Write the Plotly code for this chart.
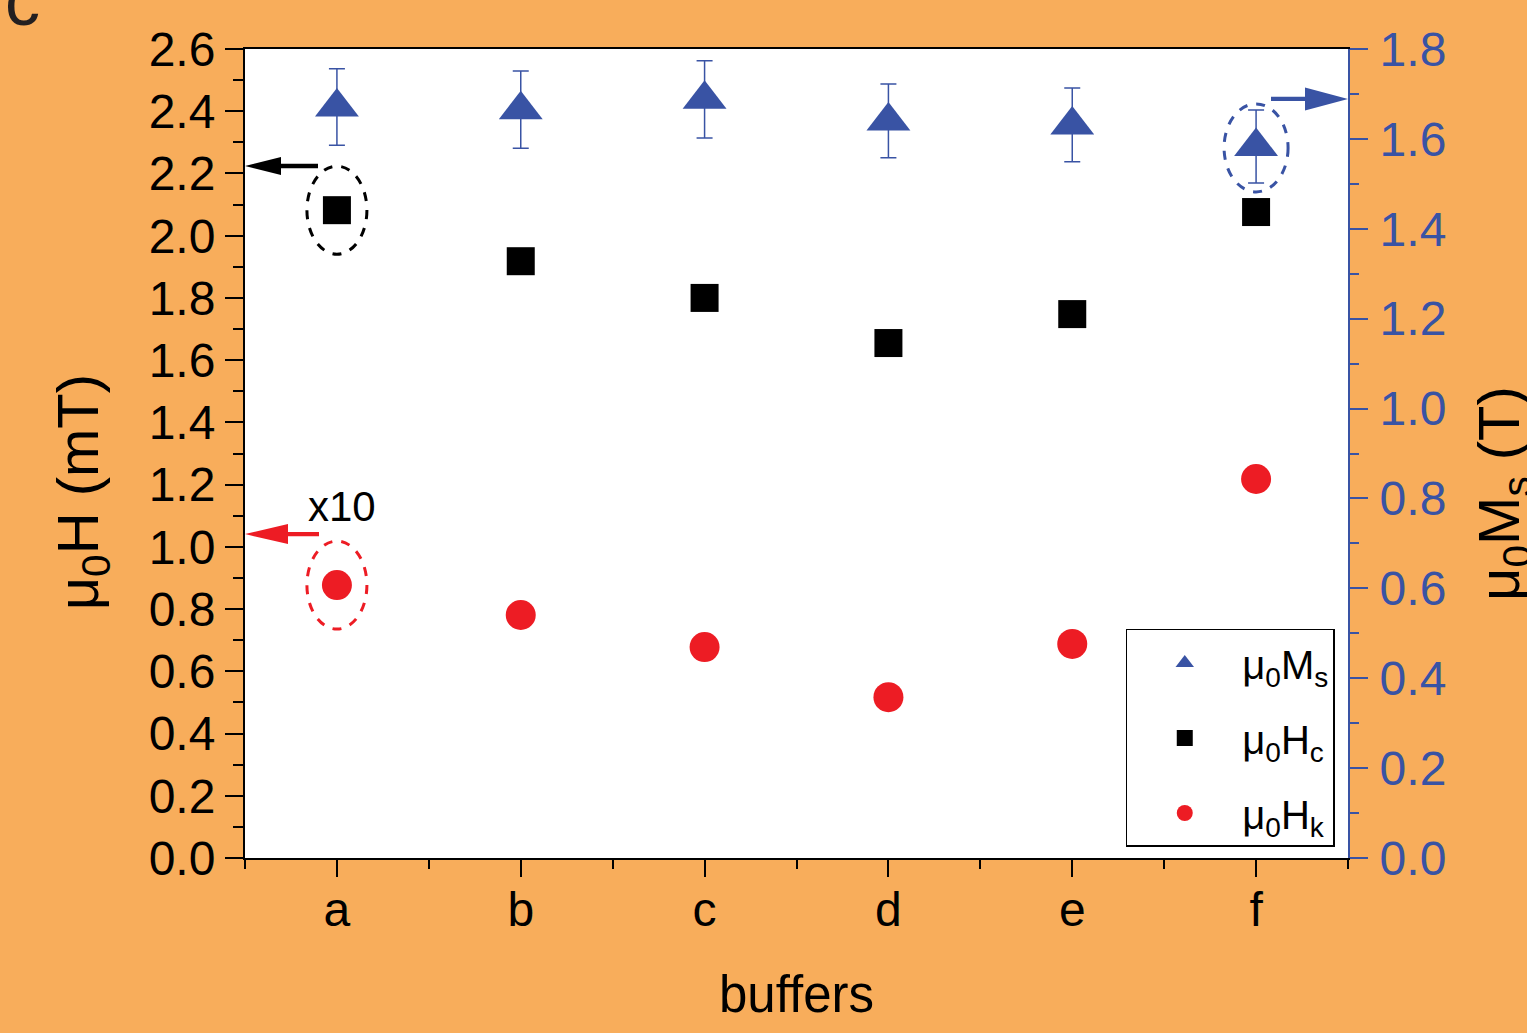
import plotly.graph_objects as go

buffers = ["a", "b", "c", "d", "e", "f"]
ms_T = [1.671, 1.665, 1.688, 1.640, 1.631, 1.583]
ms_err = [0.085, 0.086, 0.086, 0.082, 0.082, 0.081]
hc_mT = [2.082, 1.918, 1.800, 1.655, 1.748, 2.076]
hk_mT = [0.877, 0.781, 0.678, 0.517, 0.688, 1.218]

xpos = list(range(len(buffers)))
BLUE = "#3953A4"
RED = "#ED1C24"
ORANGE = "#F8AD5B"
FONT = "Arial, Liberation Sans, sans-serif"

fig = go.Figure()
fig.add_trace(go.Scatter(
    x=xpos, y=ms_T, yaxis="y2", mode="markers", name="μ<sub>0</sub>M<sub>s</sub>",
    legendgroup="ms",
    marker=dict(symbol="triangle-up", size=38, color=BLUE),
    error_y=dict(type="data", array=ms_err, color=BLUE, thickness=1.5, width=8),
))
fig.add_trace(go.Scatter(
    x=xpos, y=hc_mT, mode="markers", name="μ<sub>0</sub>H<sub>c</sub>",
    legendgroup="hc",
    marker=dict(symbol="square", size=28, color="black"),
))
fig.add_trace(go.Scatter(
    x=xpos, y=hk_mT, mode="markers", name="μ<sub>0</sub>H<sub>k</sub>",
    legendgroup="hk",
    marker=dict(symbol="circle", size=30, color=RED),
))

# dashed ellipses anchored on data points (pixel sized)
def ellipse(xa, ya, yref, color, w=60, h=88):
    return dict(type="circle", xref="x", yref=yref, xsizemode="pixel", ysizemode="pixel",
                xanchor=xa, yanchor=ya, x0=-w / 2, x1=w / 2, y0=-h / 2, y1=h / 2,
                line=dict(color=color, width=3, dash="dash"))

fig.add_shape(ellipse(0, hc_mT[0], "y", "black"))
fig.add_shape(ellipse(0, hk_mT[0], "y", RED))
fig.add_shape(ellipse(5, ms_T[5] - 0.003, "y2", BLUE, w=64, h=88))


# arrows: tip anchored at the axis edge, drawn in pixels
def arrow(xa, ya, yref, color, direction, length, head_len, head_half, shaft_half=2.2):
    d = direction
    p = (f"M 0,0 L {d*head_len},{head_half} L {d*head_len},{shaft_half} "
         f"L {d*length},{shaft_half} L {d*length},{-shaft_half} L {d*head_len},{-shaft_half} "
         f"L {d*head_len},{-head_half} Z")
    return dict(type="path", xref="x", yref=yref, xsizemode="pixel", ysizemode="pixel",
                xanchor=xa, yanchor=ya, path=p, fillcolor=color, line=dict(width=0))


fig.add_shape(arrow(-0.5, 2.224, "y", "black", 1, 73, 36, 9))
fig.add_shape(arrow(-0.5, 1.041, "y", RED, 1, 74, 43, 10))
fig.add_shape(arrow(5.5, 1.689, "y2", BLUE, -1, 77, 43, 11.5))

annotations = [
    dict(x=0.03, y=1.13, xref="x", yref="y", text="x10", showarrow=False,
         font=dict(family=FONT, size=42, color="black")),
    dict(x=-0.1478, y=0.452, xref="paper", yref="paper", text="μ<sub>0</sub>H (mT)",
         xanchor="center", yanchor="middle",
         textangle=-90, showarrow=False, font=dict(family=FONT, size=58, color="black")),
    dict(x=1.1405, y=0.4512, xref="paper", yref="paper", text="μ<sub>0</sub>M<sub>s</sub> (T)",
         xanchor="center", yanchor="middle",
         textangle=-90, showarrow=False, font=dict(family=FONT, size=58, color="black")),
    dict(x=0.5, y=-0.169, xref="paper", yref="paper", text="buffers",
         xanchor="center", yanchor="middle",
         showarrow=False, font=dict(family=FONT, size=51, color="black")),
    dict(x=-0.2013, y=1.059, xref="paper", yref="paper", text="c",
         xanchor="center", yanchor="middle",
         showarrow=False, font=dict(family=FONT, size=70, color="#231F20")),
]

fig.update_layout(
    width=1527, height=1033,
    paper_bgcolor=ORANGE, plot_bgcolor="white",
    margin=dict(l=245, r=179, t=49, b=175),
    font=dict(family=FONT, color="black"),
    annotations=annotations,
    showlegend=True,
    legend=dict(x=0.988, y=0.0136, xanchor="right", yanchor="bottom",
                bgcolor="white", bordercolor="black", borderwidth=1.5,
                itemwidth=105, tracegroupgap=20,
                font=dict(family=FONT, size=40, color="black")),
    xaxis=dict(range=[-0.5, 5.5], tickvals=xpos, ticktext=buffers,
               showgrid=False, zeroline=False, showline=True, linecolor="black", linewidth=2,
               mirror=True, ticks="outside", ticklen=17, tickwidth=2, tickcolor="black",
               ticklabelstandoff=-9,
               tickfont=dict(family=FONT, size=48, color="black"),
               minor=dict(dtick=0.5, tick0=-0.5, ticks="outside", ticklen=9, tickwidth=2,
                          tickcolor="black", showgrid=False)),
    yaxis=dict(range=[0, 2.6], dtick=0.2, tick0=0, tickformat=".1f",
               showgrid=False, zeroline=False, showline=True, linecolor="black", linewidth=2,
               ticks="outside", ticklen=18, tickwidth=2, tickcolor="black",
               ticklabelstandoff=0,
               tickfont=dict(family=FONT, size=48, color="black"),
               minor=dict(dtick=0.1, ticks="outside", ticklen=10, tickwidth=2,
                          tickcolor="black", showgrid=False)),
    yaxis2=dict(range=[0, 1.8], dtick=0.2, tick0=0, tickformat=".1f", overlaying="y", side="right",
                showgrid=False, zeroline=False, showline=True, linecolor=BLUE, linewidth=2,
                ticks="outside", ticklen=18, tickwidth=2, tickcolor=BLUE,
                ticklabelstandoff=2,
                tickfont=dict(family=FONT, size=48, color=BLUE),
                minor=dict(dtick=0.1, ticks="outside", ticklen=9, tickwidth=2,
                           tickcolor=BLUE, showgrid=False)),
)

fig.write_html("out.html")
